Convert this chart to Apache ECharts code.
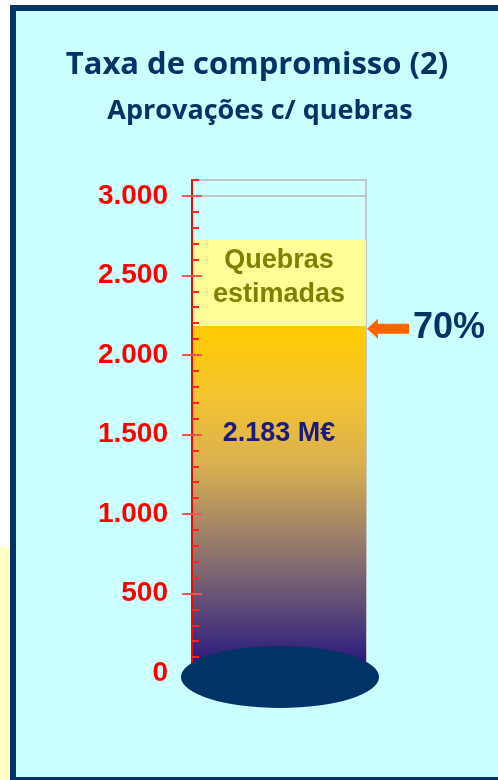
<!DOCTYPE html>
<html>
<head>
<meta charset="utf-8">
<script src="https://cdn.jsdelivr.net/npm/echarts@6/dist/echarts.min.js"></script>
<style>
  html, body { margin: 0; padding: 0; background: #fff; }
  #container { width: 498px; height: 780px; }
</style>
</head>
<body>
<div id="container"></div>
<script>
    // dados
    var categorias = ['Aprovações'];
    var aprovacoes = [2183];          // M€
    var quebras = [540];              // quebras estimadas (acima das aprovações)
    var yTicks = [0, 500, 1000, 1500, 2000, 2500, 3000];
    var yTickLabels = ['0', '500', '1.000', '1.500', '2.000', '2.500', '3.000'];
    var yMax = 3100;
    var taxa = '70%';

    function fmtMil(v) {
        return String(v).replace(/\B(?=(\d{3})+(?!\d))/g, '.');
    }

    var azul = '#003366';
    var vermelho = '#FF0000';

    var gradiente = new echarts.graphic.LinearGradient(0, 0, 0, 1, [
        { offset: 0, color: '#FFCC00' },
        { offset: 0.2, color: '#F4C430' },
        { offset: 0.4, color: '#D9B050' },
        { offset: 0.67, color: '#8A7070' },
        { offset: 0.82, color: '#5A4878' },
        { offset: 1, color: '#22127E' }
    ]);

    var option = {
        backgroundColor: '#fff',
        animation: false,
        title: [
            {
                text: 'Taxa de compromisso (2)',
                left: 252, top: 45, textAlign: 'center',
                textStyle: { fontFamily: 'Open Sans', fontWeight: 'bold', fontSize: 31, color: azul }
            },
            {
                text: 'Aprovações c/ quebras',
                left: 255, top: 93, textAlign: 'center',
                textStyle: { fontFamily: 'Open Sans', fontWeight: 'bold', fontSize: 27, color: azul }
            }
        ],
        grid: {
            left: 192, right: 132, top: 180, bottom: 107,
            show: true, borderColor: '#BFC8C8', borderWidth: 2, backgroundColor: 'transparent'
        },
        xAxis: { type: 'category', data: categorias, show: false },
        yAxis: [
            {
                // rótulos, linha do eixo e traço maior para fora
                type: 'value', position: 'left', z: 10, min: 0, max: yMax, interval: 500,
                axisLine: { show: true, lineStyle: { color: vermelho, width: 2 } },
                axisTick: { show: true, length: 10, customValues: yTicks, lineStyle: { color: '#FF5050', width: 2 } },
                axisLabel: {
                    customValues: yTicks,
                    margin: 24,
                    formatter: function (v) { return yTickLabels[yTicks.indexOf(v)]; },
                    color: vermelho, fontFamily: 'Liberation Sans', fontWeight: 'bold', fontSize: 28
                },
                splitLine: { show: false }
            },
            {
                // traços menores (para dentro)
                type: 'value', position: 'left', offset: 0, z: 10, min: 0, max: yMax, interval: 100,
                axisLine: { show: false },
                axisTick: { show: true, inside: true, length: 7, lineStyle: { color: '#FF2020', width: 2 } },
                axisLabel: { show: false },
                splitLine: { show: false }
            },
            {
                // traço maior para dentro
                type: 'value', position: 'left', offset: 0, z: 10, min: 0, max: yMax, interval: 500,
                axisLine: { show: false },
                axisTick: { show: true, inside: true, length: 10, customValues: yTicks, lineStyle: { color: '#FF5050', width: 2 } },
                axisLabel: { show: false },
                splitLine: { show: false }
            },
            {
                // linhas de grelha, por baixo das barras
                type: 'value', position: 'left', offset: 0, z: 0, min: 0, max: yMax, interval: 500,
                axisLine: { show: false },
                axisTick: { show: false },
                axisLabel: { show: false },
                splitLine: { show: true, lineStyle: { color: '#BFC8C8', width: 2 } }
            }
        ],
        series: [
            {
                name: 'Aprovações',
                type: 'bar',
                stack: 'total',
                z: 3,
                data: aprovacoes,
                barCategoryGap: '0%',
                itemStyle: { color: gradiente },
                label: {
                    show: true,
                    position: ['50%', '31%'],
                    align: 'center', verticalAlign: 'middle',
                    formatter: function (p) { return fmtMil(p.value) + ' M€'; },
                    color: '#1A1A80', fontFamily: 'Liberation Sans', fontWeight: 'bold', fontSize: 27
                }
            },
            {
                name: 'Quebras estimadas',
                type: 'bar',
                stack: 'total',
                z: 3,
                data: quebras,
                itemStyle: { color: '#FFFF99' },
                label: {
                    show: true,
                    position: ['50%', '44%'],
                    align: 'center', verticalAlign: 'middle',
                    formatter: 'Quebras\nestimadas',
                    lineHeight: 34,
                    color: '#808000', fontFamily: 'Liberation Sans', fontWeight: 'bold', fontSize: 27
                }
            }
        ]
    };

    var myChart = echarts.init(document.getElementById('container'));
    myChart.setOption(option);

    // elementos decorativos ligados às escalas
    var xc = myChart.convertToPixel({ xAxisIndex: 0 }, categorias[0]);
    var y0 = myChart.convertToPixel({ yAxisIndex: 0 }, 0);
    var yA = myChart.convertToPixel({ yAxisIndex: 0 }, aprovacoes[0]);
    var xTip = xc + 88;

    myChart.setOption({
        graphic: [
            { type: 'rect', z: -10, shape: { x: 0, y: 547, width: 10, height: 233 }, style: { fill: '#FFFFCC' } },
            { type: 'rect', z: -9, shape: { x: 13, y: 8, width: 500, height: 772 },
              style: { fill: '#CCFFFF', stroke: azul, lineWidth: 6 } },
            { type: 'ellipse', z: 100, shape: { cx: xc + 1, cy: y0 + 4, rx: 99, ry: 31 }, style: { fill: azul } },
            { type: 'polygon', z: 100,
              shape: { points: [[xTip, yA + 3], [xTip + 11, yA - 7], [xTip + 11, yA - 2], [xTip + 42, yA - 2],
                                [xTip + 42, yA + 8], [xTip + 11, yA + 8], [xTip + 11, yA + 13]] },
              style: { fill: '#FF6600' } },
            { type: 'text', z: 100, x: xTip + 46, y: yA + 2,
              style: { text: taxa, fill: azul, font: 'bold 36px "Liberation Sans"', verticalAlign: 'middle' } }
        ]
    });
</script>
</body>
</html>
